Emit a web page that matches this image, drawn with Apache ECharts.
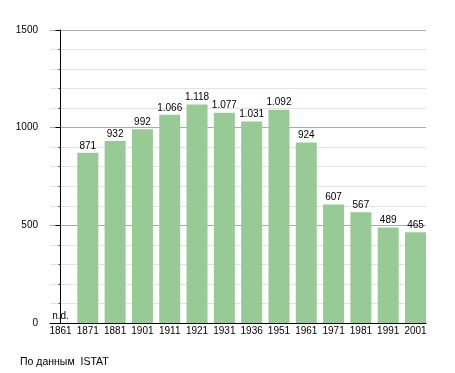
<!DOCTYPE html>
<html><head><meta charset="utf-8">
<script src="https://cdn.jsdelivr.net/npm/echarts@6/dist/echarts.min.js"></script>
<style>html,body{margin:0;padding:0;background:#fff}#c{width:455px;height:373px}</style>
</head><body><div id="c"></div>
<script>
const categories = ['1861','1871','1881','1901','1911','1921','1931','1936','1951','1961','1971','1981','1991','2001'];
const population = [null, 871, 932, 992, 1066, 1118, 1077, 1031, 1092, 924, 607, 567, 489, 465];
const yMax = 1500;
const yStep = 500;
const sourceText = 'По данным  ISTAT';

const FONT = "'Liberation Sans', Arial, sans-serif";
const barW = 21;
const gridL = 50, gridR = 426;
// bar k spans from gridL + k*pitch to gridL + k*pitch + barW; last bar ends at gridR
const pitch = (gridR - gridL - barW) / (categories.length - 1);
const half = (barW / 2) / pitch;

function fmt(v) {
  if (v >= 1000) return Math.floor(v / 1000) + '.' + String(v % 1000).padStart(3, '0');
  return String(v);
}

const chart = echarts.init(document.getElementById('c'), null, {renderer: 'canvas'});
chart.setOption({
  animation: false,
  backgroundColor: '#fff',
  textStyle: {fontFamily: FONT},
  title: {
    text: sourceText, left: 20, top: 357, padding: 0,
    textStyle: {fontSize: 10.5, fontWeight: 'normal', color: '#000', fontFamily: FONT}
  },
  grid: {left: gridL, right: 455 - gridR, top: 30, bottom: 50},
  xAxis: {
    type: 'value',
    min: -half,
    max: categories.length - 1 + half,
    splitLine: {show: false},
    axisLine: {show: true, onZero: false, lineStyle: {color: '#000', width: 1}},
    axisTick: {show: false},
    axisLabel: {
      customValues: categories.map((c, i) => i),
      formatter: v => categories[Math.round(v)] || '',
      fontSize: 10, color: '#000', margin: 3, fontFamily: FONT
    }
  },
  yAxis: {
    type: 'value',
    min: 0, max: yMax, interval: yStep,
    axisLine: {show: true, lineStyle: {color: '#000', width: 1}},
    axisTick: {show: true, length: 5, lineStyle: {color: '#000'}},
    minorTick: {show: true, splitNumber: 5, length: 2, lineStyle: {color: '#444'}},
    splitLine: {show: true, lineStyle: {color: '#aaaaaa', width: 1}},
    minorSplitLine: {show: true, lineStyle: {color: '#e2e2e2', width: 1}},
    axisLabel: {fontSize: 10, color: '#000', margin: 12, fontFamily: FONT, formatter: v => String(v)}
  },
  series: [{
    type: 'bar',
    barWidth: barW,
    data: population.map((v, i) => [i, v == null ? 0 : v]),
    itemStyle: {color: '#98ca96'},
    label: {
      show: true, position: 'top', distance: 2,
      fontSize: 10, color: '#000', fontFamily: FONT,
      formatter: p => population[p.dataIndex] == null ? 'n.d.' : fmt(population[p.dataIndex])
    }
  }]
});
</script></body></html>
